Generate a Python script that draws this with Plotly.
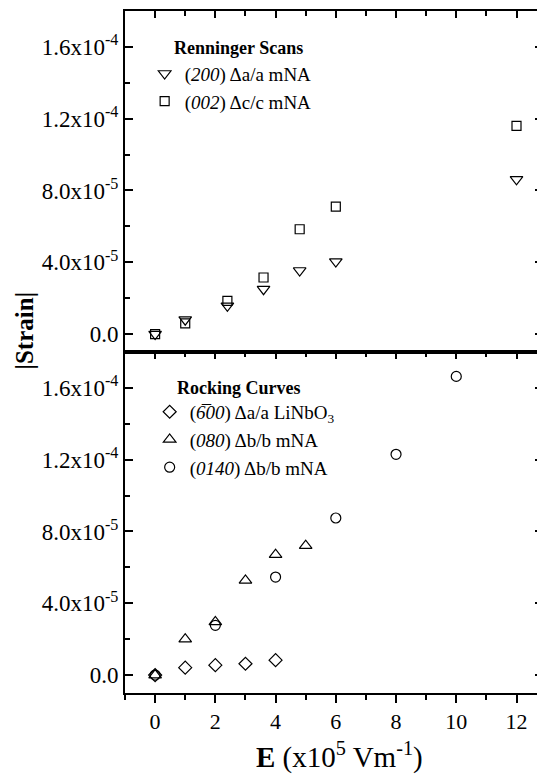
import plotly.graph_objects as go

# ---------------- data ----------------
# Top panel: Renninger scans
ren_x = [0, 1, 2.4, 3.6, 4.8, 6, 12]
ren_200 = [0.0, 8.0e-6, 15.7e-6, 25.0e-6, 35.4e-6, 40.4e-6, 86.2e-6]
ren_002 = [0.0, 6.0e-6, 18.5e-6, 31.5e-6, 58.4e-6, 71.0e-6, 116.0e-6]

# Bottom panel: rocking curves
rc_600_x = [0, 1, 2, 3, 4]
rc_600 = [0.0, 4.1e-6, 5.5e-6, 6.3e-6, 8.3e-6]
rc_080_x = [0, 1, 2, 3, 4, 5]
rc_080 = [0.0, 20.0e-6, 29.6e-6, 52.7e-6, 67.1e-6, 72.1e-6]
rc_0140_x = [0, 2, 4, 6, 8, 10]
rc_0140 = [0.0, 27.7e-6, 54.6e-6, 87.5e-6, 123.0e-6, 166.4e-6]

y_tickvals = [0, 4e-5, 8e-5, 1.2e-4, 1.6e-4]
y_ticktext = ["0.0", "4.0x10<sup>-5</sup>", "8.0x10<sup>-5</sup>",
              "1.2x10<sup>-4</sup>", "1.6x10<sup>-4</sup>"]
x_tickvals = [0, 2, 4, 6, 8, 10, 12]

FONT = "Liberation Serif"

fig = go.Figure()

def mk(x, y, sym, name, xa, ya, legend, size=10):
    fig.add_trace(go.Scatter(
        x=x, y=y, mode="markers", name=name, xaxis=xa, yaxis=ya, legend=legend,
        marker=dict(symbol=sym, size=size, color="black",
                    line=dict(color="black", width=1.2)),
        cliponaxis=False))

mk(ren_x, ren_200, "triangle-down-open", "(<i>200</i>) Δa/a mNA", "x", "y", "legend", 11)
mk(ren_x, ren_002, "square-open", "(<i>002</i>) Δc/c mNA", "x", "y", "legend", 9)

mk(rc_600_x, rc_600, "diamond-open", "(<i>6\u030500</i>) Δa/a LiNbO<sub>3</sub>", "x2", "y2", "legend2", 10)
mk(rc_080_x, rc_080, "triangle-up-open", "(<i>080</i>) Δb/b mNA", "x2", "y2", "legend2", 11)
mk(rc_0140_x, rc_0140, "circle-open", "(<i>0140</i>) Δb/b mNA", "x2", "y2", "legend2", 10)

# dummy trace to anchor the top tick axis of the lower panel
fig.add_trace(go.Scatter(x=[], y=[], xaxis="x3", yaxis="y2", showlegend=False))

XR = [-1, 12.88]
YR = [-1e-5, 1.8e-4]
tickfont = dict(family=FONT, size=23, color="black")

yax = dict(range=YR, tickvals=y_tickvals, ticktext=y_ticktext, ticks="inside",
           ticklen=8, tickwidth=1.5, tickcolor="black",
           minor=dict(dtick=2e-5, tick0=0, ticks="inside", ticklen=5,
                      tickwidth=1.5, tickcolor="black"),
           showline=True, linewidth=2, linecolor="black", mirror="ticks",
           showgrid=False, zeroline=False, tickfont=tickfont)

xax_common = dict(range=XR, tickvals=x_tickvals, tickwidth=1.5, tickcolor="black",
                  showline=True, linewidth=2, linecolor="black",
                  showgrid=False, zeroline=False,
                  tickfont=dict(family=FONT, size=22, color="black"))

fig.update_layout(
    width=537, height=770,
    margin=dict(l=117, r=0, t=3, b=85),
    plot_bgcolor="white", paper_bgcolor="white",
    font=dict(family=FONT, color="black"),
    xaxis=dict(**xax_common, anchor="y", side="top", ticks="inside", ticklen=7,
               minor=dict(dtick=1, tick0=0, ticks="inside", ticklen=5,
                          tickwidth=1.5, tickcolor="black"),
               showticklabels=False, mirror=True),
    yaxis=dict(**yax, domain=[0.5, 1], anchor="x"),
    xaxis2=dict(**xax_common, anchor="y2", side="bottom", ticks="outside", ticklen=8,
                minor=dict(dtick=1, tick0=0, ticks="outside", ticklen=5,
                           tickwidth=1.5, tickcolor="black"),
                mirror=True),
    xaxis3=dict(range=XR, tickvals=x_tickvals, overlaying="x2", anchor="y2",
                side="top", ticks="inside", ticklen=7, tickwidth=1.5,
                tickcolor="black", showticklabels=False, showline=False,
                showgrid=False, zeroline=False,
                minor=dict(dtick=1, tick0=0, ticks="inside", ticklen=5,
                           tickwidth=1.5, tickcolor="black")),
    yaxis2=dict(**yax, domain=[0, 0.5], anchor="x2"),
    legend=dict(x=0.047, y=0.936, xanchor="left", yanchor="top",
                bgcolor="rgba(0,0,0,0)", borderwidth=0,
                font=dict(family=FONT, size=19, color="black"), tracegroupgap=0),
    legend2=dict(x=0.059, y=0.44, xanchor="left", yanchor="top",
                 bgcolor="rgba(0,0,0,0)", borderwidth=0,
                 font=dict(family=FONT, size=19, color="black"), tracegroupgap=0),
    annotations=[
        dict(text="<b>Renninger Scans</b>", x=0.112, y=0.946, xref="paper", yref="paper",
             xanchor="left", yanchor="middle", showarrow=False,
             font=dict(family=FONT, size=18, color="black")),
        dict(text="<b>Rocking Curves</b>", x=0.119, y=0.447, xref="paper", yref="paper",
             xanchor="left", yanchor="middle", showarrow=False,
             font=dict(family=FONT, size=18, color="black")),
        dict(text="<b>|Strain|</b>", x=-0.24, y=0.531, xref="paper", yref="paper",
             xanchor="center", yanchor="middle", textangle=-90, showarrow=False,
             font=dict(family=FONT, size=25, color="black")),
        dict(text="<b>E</b> (x10<sup>5</sup> Vm<sup>-1</sup>)", x=0.514, y=-0.091,
             xref="paper", yref="paper", xanchor="center", yanchor="middle",
             showarrow=False, font=dict(family=FONT, size=29, color="black")),
    ],
)

fig.write_html("out.html")
